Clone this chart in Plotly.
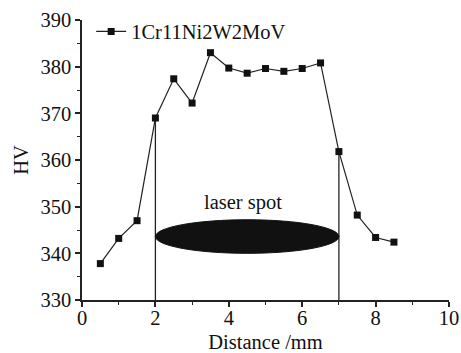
import plotly.graph_objects as go

distance = [0.5, 1.0, 1.5, 2.0, 2.5, 3.0, 3.5, 4.0, 4.5, 5.0, 5.5, 6.0, 6.5, 7.0, 7.5, 8.0, 8.5]
hv = [337.8, 343.2, 347.0, 369.0, 377.4, 372.2, 383.0, 379.7, 378.6, 379.6, 379.0, 379.6, 380.8, 361.8, 348.2, 343.4, 342.4]
series_name = "1Cr11Ni2W2MoV"
spot_edges = [2.0, 7.0]
spot_y = [340.0, 347.2]
spot_label = "laser spot"
spot_label_pos = [4.4, 350.8]

FONT = "Liberation Serif, Times New Roman, serif"
FS = 20.5

fig = go.Figure()

for xe in spot_edges:
    ye = hv[distance.index(xe)]
    fig.add_trace(go.Scatter(x=[xe, xe], y=[330, ye], mode="lines",
                             line=dict(color="#222", width=1.3), showlegend=False, hoverinfo="skip"))

fig.add_trace(go.Scatter(x=distance, y=hv, mode="lines+markers", name=series_name,
                         line=dict(color="#222", width=1.2),
                         marker=dict(symbol="square", size=7, color="#111")))

fig.add_shape(type="circle", xref="x", yref="y",
              x0=spot_edges[0], x1=spot_edges[1], y0=spot_y[0], y1=spot_y[1],
              fillcolor="#111", line=dict(color="#111", width=1), layer="above")

fig.add_annotation(x=spot_label_pos[0], y=spot_label_pos[1], text=spot_label, showarrow=False,
                   font=dict(family=FONT, size=FS, color="#111"))

axis_common = dict(showgrid=False, zeroline=False, showline=True, linecolor="#222", linewidth=1.5,
                   ticks="outside", tickcolor="#222", ticklen=5, tickwidth=1.5,
                   tickfont=dict(family=FONT, size=FS, color="#111"), mirror=False, automargin=False)

fig.update_xaxes(range=[0, 10], dtick=2, tick0=0, ticklabelstandoff=-6,
                 minor=dict(dtick=1, ticks="outside", ticklen=3, tickcolor="#222", tickwidth=1.2),
                 title=dict(text="Distance /mm", font=dict(family=FONT, size=FS, color="#111"), standoff=8),
                 **axis_common)
fig.update_yaxes(range=[330, 390], dtick=10, tick0=330,
                 minor=dict(dtick=5, ticks="outside", ticklen=3, tickcolor="#222", tickwidth=1.2),
                 title=dict(text="HV", font=dict(family=FONT, size=FS, color="#111"), standoff=6),
                 **axis_common)

fig.update_layout(width=461, height=353, margin=dict(l=82, r=12, t=18, b=53),
                  plot_bgcolor="white", paper_bgcolor="white",
                  showlegend=True,
                  legend=dict(x=0.025, y=1.03, xanchor="left", yanchor="top",
                              bgcolor="rgba(0,0,0,0)", font=dict(family=FONT, size=FS, color="#111"),
                              itemwidth=30, tracegroupgap=0))

fig.write_html("out.html", config={"displayModeBar": False},
               post_script="document.body.style.margin='0';document.body.style.overflow='hidden';")
